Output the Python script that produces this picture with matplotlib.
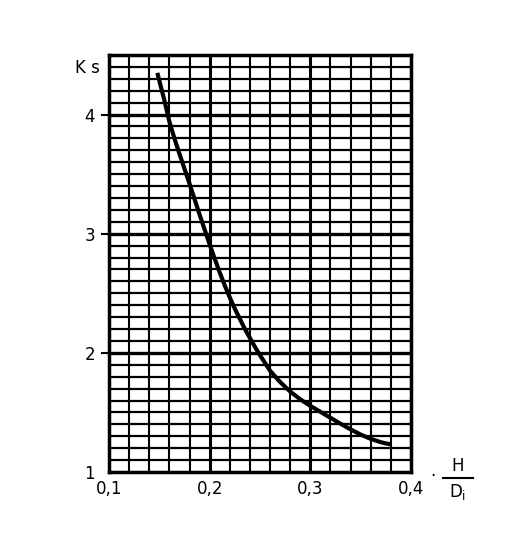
import matplotlib
matplotlib.use("Agg")
import matplotlib.pyplot as plt
import numpy as np

# Data
h_over_d = [0.148, 0.155, 0.16, 0.165, 0.17, 0.175, 0.18, 0.185, 0.19, 0.195, 0.20,
            0.205, 0.21, 0.215, 0.22, 0.225, 0.23, 0.235, 0.24, 0.245, 0.25,
            0.26, 0.27, 0.28, 0.29, 0.30, 0.31, 0.32, 0.33,
            0.34, 0.35, 0.36, 0.37, 0.375, 0.38]
ks = [4.35, 4.12, 3.94, 3.80, 3.67, 3.545, 3.42, 3.29, 3.16, 3.035, 2.91,
      2.79, 2.675, 2.565, 2.465, 2.37, 2.285, 2.20, 2.125, 2.05, 1.98,
      1.85, 1.755, 1.675, 1.61, 1.555, 1.505, 1.455, 1.405,
      1.358, 1.314, 1.278, 1.25, 1.24, 1.233]

x_ticks = [0.1, 0.2, 0.3, 0.4]
x_tick_labels = ["0,1", "0,2", "0,3", "0,4"]
y_ticks = [1, 2, 3, 4]
y_tick_labels = ["1", "2", "3", "4"]

fig = plt.figure(figsize=(5.25, 5.43), dpi=100)
ax = fig.add_axes([109/525, 1-472/543, (411-109)/525, (472-55)/543])

ax.set_xlim(0.1, 0.4)
ax.set_ylim(1.0, 4.5)

# grid
for xv in np.arange(0.12, 0.40, 0.02):
    major = abs(round(xv * 10) - xv * 10) < 1e-6
    ax.axvline(xv, color="black", lw=2.2 if major else 1.5, zorder=1)
for yv in np.arange(1.1, 4.5, 0.1):
    major = abs(round(yv) - yv) < 1e-6
    ax.axhline(yv, color="black", lw=2.4 if major else 1.6, zorder=1)

ax.plot(h_over_d, ks, color="black", lw=3.0, solid_capstyle="butt",
        solid_joinstyle="round", zorder=3)

for s in ax.spines.values():
    s.set_linewidth(2.5)

ax.set_xticks(x_ticks)
ax.set_xticklabels(x_tick_labels, fontsize=12)
ax.set_yticks(y_ticks)
ax.set_yticklabels(y_tick_labels, fontsize=12)
ax.tick_params(axis="x", length=0, pad=6)
ax.tick_params(axis="y", length=6, width=1.5, pad=4)
ax.yaxis.get_major_ticks()[0].tick1line.set_visible(False)

fig.text(75/525, 1-68/543, "K s", fontsize=12, ha="left", va="center")
fig.text(433/525, 1-476/543, "·", fontsize=12, ha="center", va="center")
fig.text(458/525, 1-466/543, "H", fontsize=12, ha="center", va="center")
fig.add_artist(plt.Line2D([443/525, 473/525], [1-478/543, 1-478/543], color="black", lw=1.5))
fig.text(458/525, 1-492/543, r"D$_{\mathrm{i}}$", fontsize=12, ha="center", va="center")

fig.savefig("out.png", dpi=100, facecolor="white")
